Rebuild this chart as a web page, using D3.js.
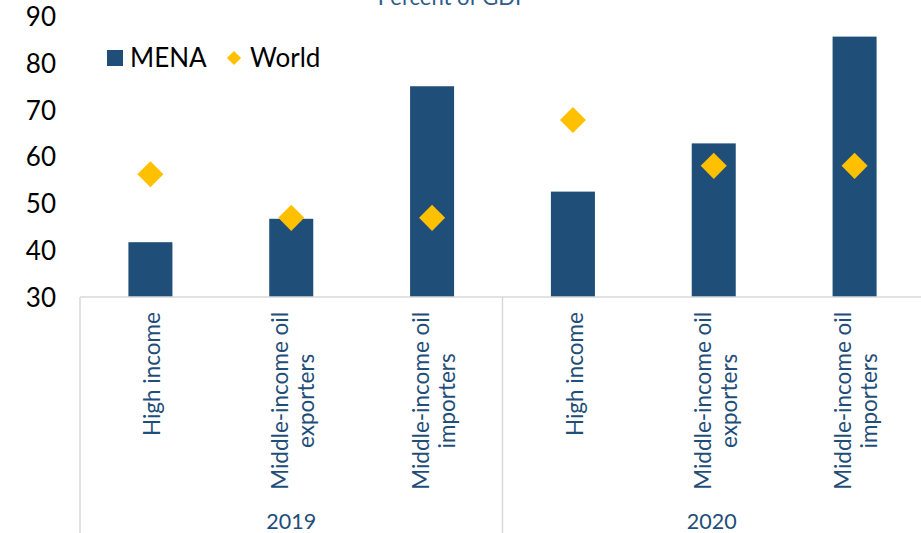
<!DOCTYPE html>
<html>
<head>
<meta charset="utf-8">
<script src="https://cdn.jsdelivr.net/npm/d3@7"></script>
<style>
  html, body { margin: 0; padding: 0; background: #fff; }
  svg { display: block; font-family: Lato, "Noto Sans", sans-serif; }
</style>
</head>
<body>
<svg id="chart" width="921" height="533"></svg>
<script>
// Share of GDP by country group, MENA versus world
const years = ["2019", "2020"];
const groups = ["High income", "Middle-income oil exporters", "Middle-income oil importers"];
const groupLines = [["High income"], ["Middle-income oil", "exporters"], ["Middle-income oil", "importers"]];
const menaValues = [41.7, 46.7, 75.0, 52.5, 62.8, 85.6];
const worldValues = [56.2, 46.9, 46.9, 67.8, 58.0, 58.0];
const yTicks = [30, 40, 50, 60, 70, 80, 90];
const seriesNames = ["MENA", "World"];

const BLUE = "#1F4E79";
const GOLD = "#FFC000";
const GRID = "#D9D9D9";

const svg = d3.select("#chart");
const W = 921, H = 533;
const plotLeft = 80, plotRight = 925, plotTop = 16, plotBottom = 297;

// one slot per (year, group) pair
const keys = [];
years.forEach((yr, yi) => groups.forEach((g, gi) => keys.push({ year: yr, yi, group: g, gi, key: yr + "|" + g })));

const x = d3.scaleBand().domain(keys.map(k => k.key)).range([plotLeft, plotRight])
  .paddingInner(0.6875).paddingOuter(0.34375);
const step = x.step();
const y = d3.scaleLinear().domain([30, 90]).range([plotBottom, plotTop]);

// title (partly above the frame)
svg.append("text")
  .attr("x", 453).attr("y", 5)
  .attr("text-anchor", "middle")
  .attr("font-size", 22).attr("fill", "#2E5C8A")
  .text("Percent of GDP");

// y axis: labels only
const yAxis = svg.append("g")
  .attr("transform", `translate(${plotLeft - 24},0)`)
  .call(d3.axisLeft(y).tickValues(yTicks).tickSize(0).tickPadding(0));
yAxis.select(".domain").remove();
yAxis.selectAll("text")
  .attr("font-size", 26).attr("fill", "#000")
  .attr("font-family", "Lato, 'Noto Sans', sans-serif")
  .attr("dy", "0.36em");

// bars
svg.append("g").selectAll("rect")
  .data(keys)
  .join("rect")
  .attr("x", d => x(d.key))
  .attr("width", x.bandwidth())
  .attr("y", (d, i) => y(menaValues[i]))
  .attr("height", (d, i) => y(30) - y(menaValues[i]))
  .attr("fill", BLUE);

// world markers
const diamond = d3.symbol().type(d3.symbolSquare).size(340);
svg.append("g").selectAll("path")
  .data(keys)
  .join("path")
  .attr("d", diamond)
  .attr("transform", (d, i) => `translate(${x(d.key) + x.bandwidth() / 2},${y(worldValues[i])}) rotate(45)`)
  .attr("fill", GOLD);

// category axis frame
const frame = svg.append("g").attr("stroke", GRID).attr("stroke-width", 1.5).attr("fill", "none");
frame.append("line").attr("x1", plotLeft).attr("x2", W).attr("y1", plotBottom).attr("y2", plotBottom);
years.forEach((yr, yi) => {
  const gx = plotLeft + yi * groups.length * step;
  frame.append("line").attr("x1", gx).attr("x2", gx).attr("y1", plotBottom).attr("y2", H);
});

// rotated category labels
const lineH = 26;
const labelTop = 312;
keys.forEach(k => {
  const cx = x(k.key) + x.bandwidth() / 2;
  const lines = groupLines[k.gi];
  const g = svg.append("g").attr("transform", `translate(${cx + 2},0) rotate(-90)`);
  const texts = lines.map((ln, li) => g.append("text")
    .attr("font-size", 22.5).attr("fill", BLUE)
    .attr("text-anchor", "middle")
    .attr("y", (li - (lines.length - 1) / 2) * lineH)
    .attr("dy", "0.35em")
    .text(ln));
  const maxLen = d3.max(texts, t => t.node().getComputedTextLength());
  texts.forEach(t => t.attr("x", -(labelTop + maxLen / 2)));
});

// year labels
years.forEach((yr, yi) => {
  const gx0 = plotLeft + yi * groups.length * step;
  const gx1 = Math.min(gx0 + groups.length * step, W);
  svg.append("text")
    .attr("x", (gx0 + gx1) / 2).attr("y", 529)
    .attr("text-anchor", "middle")
    .attr("font-size", 21.5).attr("fill", BLUE)
    .text(yr);
});

// legend
const lg = svg.append("g");
lg.append("rect").attr("x", 107).attr("y", 50).attr("width", 16).attr("height", 16).attr("fill", BLUE);
lg.append("text").attr("x", 130).attr("y", 67).attr("font-size", 26).attr("fill", "#000").text(seriesNames[0]);
lg.append("path")
  .attr("d", d3.symbol().type(d3.symbolSquare).size(100))
  .attr("transform", "translate(234,58) rotate(45)")
  .attr("fill", GOLD);
lg.append("text").attr("x", 250).attr("y", 67).attr("font-size", 26).attr("fill", "#000").text(seriesNames[1]);
</script>
</body>
</html>
